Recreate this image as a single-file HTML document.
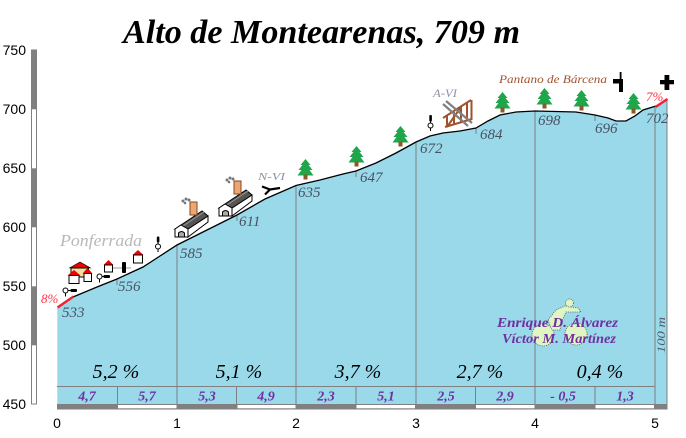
<!DOCTYPE html>
<html><head><meta charset="utf-8"><style>
html,body{margin:0;padding:0;background:#fff;}
svg{display:block;}
.ax{font-family:"Liberation Sans",sans-serif;font-size:14px;fill:#000;}
.el{font-family:"Liberation Serif",serif;font-style:italic;font-size:15px;fill:#4A5262;}
.pc{font-family:"Liberation Serif",serif;font-style:italic;font-size:20px;fill:#000;}
.bv{font-family:"Liberation Serif",serif;font-style:italic;font-weight:bold;font-size:14px;fill:#7030A0;}
</style></head><body>
<svg width="686" height="438" viewBox="0 0 686 438" xmlns="http://www.w3.org/2000/svg">
<defs>
<g id="tree">
<polygon points="7.5,0 12.5,6 10.5,6 14.5,11 11.5,11 15.5,16.5 -0.5,16.5 3.5,11 0.5,11 4.5,6 2.5,6" fill="#1FA54A"/>
<rect x="5.5" y="15.5" width="4" height="5" fill="#8B5A2B"/>
</g>
<g id="factory">
<polygon points="188,229 188,237 208,222 208,216" fill="#fff" stroke="#000" stroke-width="1"/>
<polygon points="175,229 181,225 202,211 208,216 188,229" fill="#555" stroke="#000" stroke-width="1"/>
<line x1="183" y1="226" x2="204" y2="212" stroke="#999" stroke-width="1"/>
<polygon points="175,229 181,225 188,229 188,237 175,237" fill="#fff" stroke="#000" stroke-width="1"/>
<path d="M178.5,237 V233 Q181.5,230 184.5,233 V237 Z" fill="#aaa" stroke="#000" stroke-width="1"/>
<rect x="190" y="202" width="7" height="13" fill="#E8A878" stroke="#8B4513" stroke-width="1"/>
<circle cx="183" cy="201" r="1.5" fill="#777"/>
<circle cx="186" cy="199" r="1.5" fill="#777"/>
<circle cx="189" cy="200" r="1.5" fill="#777"/>
<circle cx="185" cy="203" r="1.3" fill="#777"/>
</g>
</defs>

<!-- Title -->
<text x="123" y="43" font-family="Liberation Serif, serif" font-style="italic" font-weight="bold" font-size="34" textLength="397" lengthAdjust="spacingAndGlyphs" fill="#000">Alto de Montearenas, 709 m</text>

<!-- Y axis bar -->
<rect x="31.5" y="50" width="5" height="354" fill="#fff" stroke="#808080" stroke-width="1"/>
<rect x="31" y="50" width="6" height="59.3" fill="#808080"/>
<rect x="31" y="168.3" width="6" height="59" fill="#808080"/>
<rect x="31" y="286.3" width="6" height="59" fill="#808080"/>
<text class="ax" x="26" y="55" text-anchor="end">750</text>
<text class="ax" x="26" y="114" text-anchor="end">700</text>
<text class="ax" x="26" y="173" text-anchor="end">650</text>
<text class="ax" x="26" y="232" text-anchor="end">600</text>
<text class="ax" x="26" y="291" text-anchor="end">550</text>
<text class="ax" x="26" y="350" text-anchor="end">500</text>
<text class="ax" x="26" y="409" text-anchor="end">450</text>

<!-- Profile fill -->
<path d="M57.3,307.5 L73,297 L97,287 L117,279 L143,267 L160,256 L177,245 L207,230 L237,215 L265,199 L296,185.5 L320,180 L343,174 L356,171 L376,163 L396,153 L416,142 L430,136 L443,133 L460,131 L476,128 L488,121 L500,115 L516,112 L535,111 L576,112 L595,115 L608,118 L616,121 L626,121 L635,116 L643,110 L655,107 L667,99 L667,404 L57.3,404 Z" fill="#99D9EA"/>

<!-- km lines -->
<g stroke="#808080" stroke-width="1">
<line x1="177" y1="245" x2="177" y2="404"/>
<line x1="296" y1="185.5" x2="296" y2="404"/>
<line x1="416" y1="142" x2="416" y2="404"/>
<line x1="535" y1="111" x2="535" y2="404"/>
<line x1="655" y1="107" x2="655" y2="404"/>
<line x1="667" y1="99" x2="667" y2="409"/>
<line x1="117" y1="279" x2="117" y2="285"/>
<line x1="237" y1="215" x2="237" y2="221"/>
<line x1="356" y1="171" x2="356" y2="177"/>
<line x1="476" y1="128" x2="476" y2="134"/>
<line x1="595" y1="115" x2="595" y2="121"/>
<line x1="57" y1="386.5" x2="655" y2="386.5"/>
<line x1="117.5" y1="386.5" x2="117.5" y2="404"/>
<line x1="236.5" y1="386.5" x2="236.5" y2="404"/>
<line x1="356" y1="386.5" x2="356" y2="404"/>
<line x1="475.5" y1="386.5" x2="475.5" y2="404"/>
<line x1="595" y1="386.5" x2="595" y2="404"/>
</g>

<!-- Profile line -->
<path d="M73,297 L97,287 L117,279 L143,267 L160,256 L177,245 L207,230 L237,215 L265,199 L296,185.5 L320,180 L343,174 L356,171 L376,163 L396,153 L416,142 L430,136 L443,133 L460,131 L476,128 L488,121 L500,115 L516,112 L535,111 L576,112 L595,115 L608,118 L616,121 L626,121 L635,116 L643,110 L656,106" fill="none" stroke="#000" stroke-width="1.3"/>
<line x1="57.5" y1="307.5" x2="73.5" y2="296.5" stroke="#EE2233" stroke-width="2.5"/>
<line x1="655.5" y1="107" x2="667.5" y2="99" stroke="#EE2233" stroke-width="2.5"/>

<!-- Bottom bar -->
<rect x="57" y="404" width="610.5" height="5.5" fill="#808080"/>
<g fill="#fff">
<rect x="118" y="405" width="58.5" height="3.3"/>
<rect x="237.5" y="405" width="58" height="3.3"/>
<rect x="356.5" y="405" width="58.5" height="3.3"/>
<rect x="476" y="405" width="58.5" height="3.3"/>
<rect x="595.5" y="405" width="58.5" height="3.3"/>
</g>

<!-- X labels -->
<text class="ax" x="57" y="428" text-anchor="middle">0</text>
<text class="ax" x="177" y="428" text-anchor="middle">1</text>
<text class="ax" x="296" y="428" text-anchor="middle">2</text>
<text class="ax" x="416" y="428" text-anchor="middle">3</text>
<text class="ax" x="535" y="428" text-anchor="middle">4</text>
<text class="ax" x="655" y="428" text-anchor="middle">5</text>

<!-- Percent texts -->
<text class="pc" x="116" y="378" text-anchor="middle">5,2 %</text>
<text class="pc" x="239" y="378" text-anchor="middle">5,1 %</text>
<text class="pc" x="358" y="378" text-anchor="middle">3,7 %</text>
<text class="pc" x="480" y="378" text-anchor="middle">2,7 %</text>
<text class="pc" x="600" y="378" text-anchor="middle">0,4 %</text>

<!-- Band values -->
<text class="bv" x="87" y="400.5" text-anchor="middle">4,7</text>
<text class="bv" x="147" y="400.5" text-anchor="middle">5,7</text>
<text class="bv" x="207" y="400.5" text-anchor="middle">5,3</text>
<text class="bv" x="266" y="400.5" text-anchor="middle">4,9</text>
<text class="bv" x="326" y="400.5" text-anchor="middle">2,3</text>
<text class="bv" x="386" y="400.5" text-anchor="middle">5,1</text>
<text class="bv" x="446" y="400.5" text-anchor="middle">2,5</text>
<text class="bv" x="505" y="400.5" text-anchor="middle">2,9</text>
<text class="bv" x="563" y="400.5" text-anchor="middle">- 0,5</text>
<text class="bv" x="625" y="400.5" text-anchor="middle">1,3</text>

<!-- Elevation labels -->
<text class="el" x="62" y="317">533</text>
<text class="el" x="118" y="291">556</text>
<text class="el" x="180" y="258">585</text>
<text class="el" x="239" y="226">611</text>
<text class="el" x="298" y="197">635</text>
<text class="el" x="360" y="182">647</text>
<text class="el" x="420" y="153">672</text>
<text class="el" x="480" y="139">684</text>
<text class="el" x="538" y="125">698</text>
<text class="el" x="595" y="133">696</text>
<text class="el" x="646" y="123">702</text>

<!-- Red % labels -->
<text x="41" y="303" font-family="Liberation Serif, serif" font-style="italic" font-size="13" fill="#FF3344">8%</text>
<text x="646" y="101" font-family="Liberation Serif, serif" font-style="italic" font-size="13" fill="#FF3344">7%</text>

<!-- Place labels -->
<text x="60" y="246" font-family="Liberation Serif, serif" font-style="italic" font-size="17" fill="#B8B8B8" textLength="82" lengthAdjust="spacingAndGlyphs">Ponferrada</text>
<text x="258" y="180" font-family="Liberation Serif, serif" font-style="italic" font-size="11" fill="#8E93A8" textLength="27" lengthAdjust="spacingAndGlyphs">N-VI</text>
<text x="433" y="97" font-family="Liberation Serif, serif" font-style="italic" font-size="12" fill="#8E93A8" textLength="24" lengthAdjust="spacingAndGlyphs">A-VI</text>
<text x="499" y="83" font-family="Liberation Serif, serif" font-style="italic" font-size="12" fill="#A0522D" textLength="108" lengthAdjust="spacingAndGlyphs">Pantano de Bárcena</text>

<!-- Trees -->
<use href="#tree" x="298" y="159"/>
<use href="#tree" x="349" y="146"/>
<use href="#tree" x="393" y="126"/>
<use href="#tree" x="495" y="92"/>
<use href="#tree" x="537" y="88"/>
<use href="#tree" x="574" y="90"/>
<use href="#tree" x="626" y="93"/>

<!-- Ponferrada houses -->
<polygon points="69.5,268 80,262 90.5,268" fill="#EE0000" stroke="#000" stroke-width="0.6"/>
<rect x="71" y="268" width="17.5" height="9" fill="#F5DEA0" stroke="#000" stroke-width="1"/>
<polygon points="67.5,275.5 74,270 80.5,275.5" fill="#EE0000"/>
<rect x="69" y="275.5" width="10" height="8" fill="#fff" stroke="#000" stroke-width="1"/>
<polygon points="82.5,273.5 87.5,268 92.5,273.5" fill="#EE0000"/>
<rect x="84" y="273.5" width="7.5" height="8" fill="#fff" stroke="#000" stroke-width="1"/>
<polygon points="103.5,265 108.5,260 113.5,265" fill="#EE0000"/>
<rect x="104.5" y="265" width="8" height="7" fill="#fff" stroke="#000" stroke-width="1"/>
<polygon points="132.5,255 138,250 143.5,255" fill="#EE0000"/>
<rect x="133.5" y="255" width="9" height="8" fill="#fff" stroke="#000" stroke-width="1"/>

<!-- pins -->
<g stroke="#000" stroke-width="1">
<circle cx="65.5" cy="290.5" r="2.5" fill="#fff"/>
<line x1="65.5" y1="293" x2="65.5" y2="296.5"/>
<line x1="68" y1="290.5" x2="71" y2="290.5"/>
<circle cx="99.5" cy="276.5" r="2.5" fill="#fff"/>
<line x1="99.5" y1="279" x2="99.5" y2="282.5"/>
<line x1="102" y1="276.5" x2="104" y2="276.5"/>
<circle cx="158" cy="246.5" r="2.5" fill="#fff"/>
<line x1="158" y1="249" x2="158" y2="252"/>
<line x1="158" y1="242" x2="158" y2="244"/>
<circle cx="430.5" cy="125.5" r="2.5" fill="#fff"/>
<line x1="430.5" y1="128" x2="430.5" y2="131"/>
<line x1="430.5" y1="121" x2="430.5" y2="123"/>
</g>
<rect x="70.5" y="289" width="6.5" height="3" rx="1" fill="#000"/>
<rect x="103.5" y="275" width="6.5" height="3" rx="1" fill="#000"/>
<rect x="156.8" y="236.5" width="2.6" height="6" rx="1" fill="#000"/>
<rect x="429.3" y="115" width="2.6" height="6.5" rx="1" fill="#000"/>
<line x1="113" y1="268" x2="131" y2="268" stroke="#999" stroke-width="1"/>
<rect x="122" y="262" width="4" height="11" rx="1" fill="#000"/>

<!-- factories -->
<use href="#factory"/>
<use href="#factory" x="44" y="-21"/>

<!-- N-VI icon -->
<path d="M262,186.5 L270,189.5 L280,188 M270,189.5 L265,194.5" fill="none" stroke="#000" stroke-width="2.2"/>

<!-- Bridge -->
<g stroke="#A0522D" stroke-width="2" fill="none">
<line x1="443" y1="118" x2="471" y2="100"/>
<line x1="445" y1="127" x2="472" y2="119"/>
<line x1="471.5" y1="100" x2="471.5" y2="120"/>
<line x1="447" y1="116" x2="447" y2="127"/>
<line x1="454" y1="112" x2="454" y2="125"/>
<line x1="461" y1="107" x2="461" y2="123"/>
<line x1="467" y1="103" x2="467" y2="121"/>
<line x1="447" y1="127" x2="461" y2="107"/>
</g>
<g stroke="#808080" stroke-width="2.2">
<line x1="443" y1="104" x2="468" y2="126"/>
<line x1="446" y1="101" x2="472" y2="123"/>
</g>

<!-- signal top right -->
<rect x="613" y="79" width="9" height="4.5" fill="#000"/>
<rect x="619.7" y="72" width="1.8" height="8" fill="#000"/>
<rect x="619" y="79" width="4" height="13" fill="#000"/>
<!-- cross -->
<rect x="660" y="80" width="14" height="4.3" fill="#000"/>
<rect x="664.5" y="75" width="4.8" height="15" fill="#000"/>

<!-- Cyclist -->
<g fill="#DFF5C2" stroke="#555" stroke-width="0.8" stroke-dasharray="1,1.2">
<circle cx="543" cy="335" r="11"/>
<circle cx="576" cy="334" r="11"/>
<path d="M548,320 L556,310 L565,306 L578,308 L581,312 L575,312 L566,312 L562,321 L560,330 L552,330 Z"/>
<circle cx="569.5" cy="303" r="4"/>
</g>
<text x="497" y="327" font-family="Liberation Serif, serif" font-style="italic" font-weight="bold" font-size="14" fill="#7030A0" textLength="121" lengthAdjust="spacingAndGlyphs">Enrique D. Álvarez</text>
<text x="502" y="343" font-family="Liberation Serif, serif" font-style="italic" font-weight="bold" font-size="14" fill="#7030A0" textLength="114" lengthAdjust="spacingAndGlyphs">Víctor M. Martínez</text>

<!-- 100 m -->
<text transform="translate(665,335) rotate(-90)" text-anchor="middle" font-family="Liberation Serif, serif" font-style="italic" font-size="12" fill="#555A66" textLength="36" lengthAdjust="spacingAndGlyphs">100 m</text>
</svg>
</body></html>
